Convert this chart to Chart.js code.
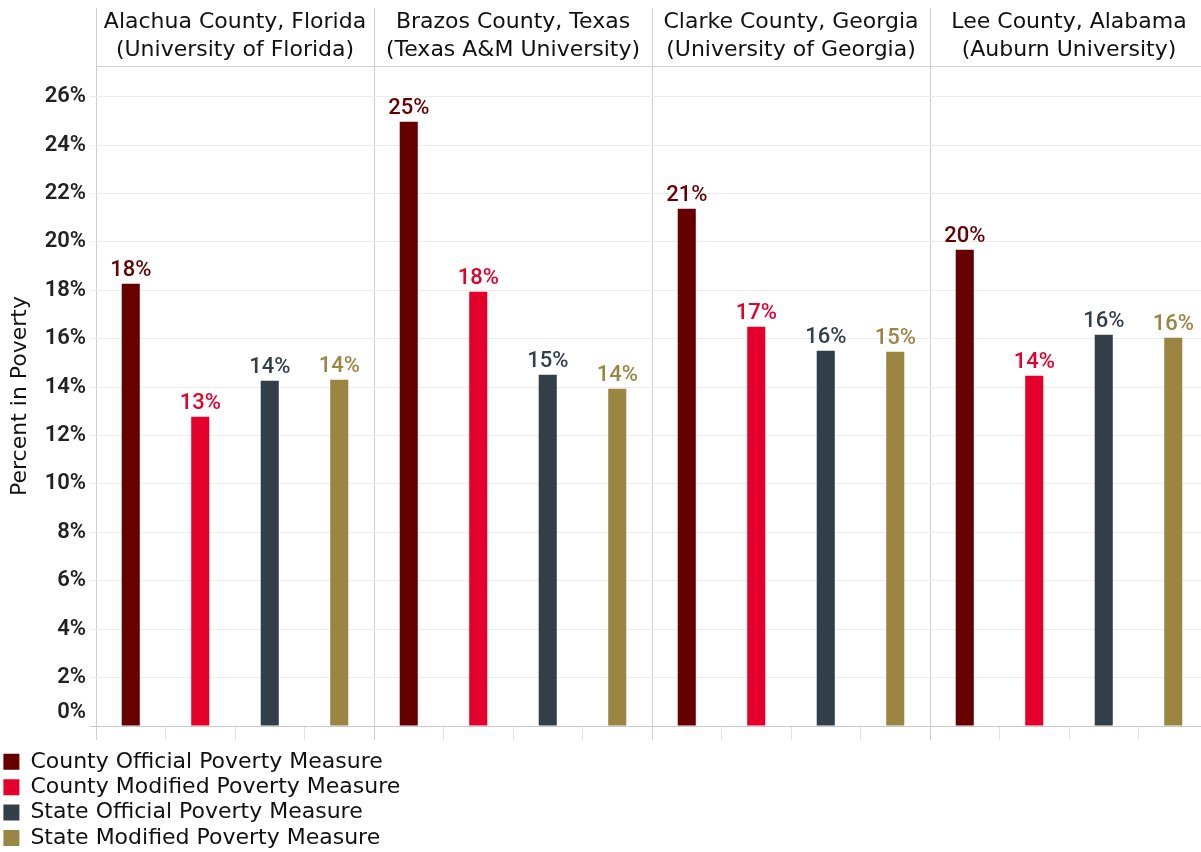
<!DOCTYPE html>
<html lang="en">
<head>
<meta charset="UTF-8">
<title>Percent in Poverty</title>
<style>
  html, body { margin: 0; padding: 0; overflow: hidden; background: #fff; }
  canvas { display: block; }
</style>
</head>
<body>
<canvas id="povertyChart" width="1208" height="859"></canvas>
<script src="https://cdn.jsdelivr.net/npm/chart.js@4.4.1/dist/chart.umd.min.js"></script>
<script>
  const COUNTIES = [
    ['Alachua County, Florida', '(University of Florida)'],
    ['Brazos County, Texas', '(Texas A&M University)'],
    ['Clarke County, Georgia', '(University of Georgia)'],
    ['Lee County, Alabama', '(Auburn University)']
  ];
  const SERIES_NAMES = [
    'County Official Poverty Measure',
    'County Modified Poverty Measure',
    'State Official Poverty Measure',
    'State Modified Poverty Measure'
  ];
  const COUNTY_OFFICIAL = [18.27, 24.97, 21.37, 19.68];
  const COUNTY_MODIFIED = [12.78, 17.94, 16.5, 14.47];
  const STATE_OFFICIAL = [14.26, 14.51, 15.5, 16.17];
  const STATE_MODIFIED = [14.31, 13.93, 15.46, 16.04];
  const Y_MAX = 27.27;
  const Y_STEP = 2;

  const COLORS = ['#660000', '#E4002B', '#333F48', '#9A8542'];
  const TEXT_FONT = '"DejaVu Sans", sans-serif';
  const NUM_FONT = 'Roboto';

  // value above each bar, in the colour of its series
  const valueLabels = {
    id: 'valueLabels',
    afterDatasetsDraw(chart) {
      const ctx = chart.ctx;
      ctx.save();
      ctx.font = '500 22px ' + NUM_FONT;
      ctx.textAlign = 'center';
      ctx.textBaseline = 'alphabetic';
      chart.data.datasets.forEach((ds, i) => {
        chart.getDatasetMeta(i).data.forEach((bar, j) => {
          ctx.fillStyle = ds.backgroundColor;
          ctx.fillText(Math.round(ds.data[j]) + '%', bar.x, bar.y - 8);
        });
      });
      ctx.restore();
    }
  };

  const seriesValues = [COUNTY_OFFICIAL, COUNTY_MODIFIED, STATE_OFFICIAL, STATE_MODIFIED];
  const datasets = SERIES_NAMES.map((name, i) => ({
    label: name,
    data: seriesValues[i],
    backgroundColor: COLORS[i],
    borderWidth: 0,
    barPercentage: 0.26,
    categoryPercentage: 1.0
  }));

  const slotCount = COUNTIES.length * SERIES_NAMES.length;

  new Chart(document.getElementById('povertyChart'), {
    type: 'bar',
    data: { labels: COUNTIES, datasets },
    plugins: [valueLabels],
    options: {
      responsive: false,
      animation: false,
      layout: { padding: 0 },
      plugins: {
        tooltip: { enabled: false },
        legend: {
          position: 'bottom',
          align: 'start',
          labels: {
            boxWidth: 16,
            boxHeight: 16,
            padding: 3.4,
            color: '#111',
            font: { family: TEXT_FONT, size: 22 },
            // one entry per row: pad the text so two never share a line
            generateLabels(chart) {
              return Chart.defaults.plugins.legend.labels.generateLabels(chart)
                .map(item => Object.assign(item, { text: item.text + ' '.repeat(60) }));
            }
          }
        }
      },
      scales: {
        x: {
          type: 'category',
          display: false,
          offset: true,
          grid: { offset: true }
        },
        xTop: {
          type: 'category',
          position: 'top',
          labels: COUNTIES,
          offset: true,
          afterFit(scale) { scale.height = 66; },
          ticks: {
            autoSkip: false,
            maxRotation: 0,
            padding: -56,
            color: '#111',
            font: { family: TEXT_FONT, size: 22, lineHeight: 28 / 22 }
          },
          grid: { offset: true, drawOnChartArea: false, tickLength: 58, color: '#cfcfcf' },
          border: { display: true, color: '#cfcfcf' }
        },
        xSlots: {
          type: 'linear',
          position: 'bottom',
          min: 0,
          max: slotCount,
          offset: false,
          ticks: { display: false, stepSize: 1 },
          grid: {
            offset: false,
            tickLength: 14,
            color: c => c.tick && c.tick.value % SERIES_NAMES.length === 0 ? '#cfcfcf' : 'rgba(0,0,0,0)',
            tickColor: c => c.tick && c.tick.value % SERIES_NAMES.length === 0 ? '#cfcfcf' : '#e2e2e2'
          },
          border: { display: false },
          title: { display: true, text: ' ', font: { size: 7.4, lineHeight: 1 }, padding: 0 }
        },
        y: {
          min: 0,
          max: Y_MAX,
          afterFit(scale) { scale.width = 96; },
          ticks: {
            stepSize: Y_STEP,
            includeBounds: false,
            autoSkip: false,
            padding: 4,
            color: '#222',
            font: { family: NUM_FONT, size: 22, weight: '600' },
            callback: v => v === 0 ? ['0%', ''] : v + '%'
          },
          grid: {
            tickLength: 6,
            color: c => c.tick && c.tick.value === 0 ? '#c8c8c8' : '#ececec',
            tickColor: c => c.tick && c.tick.value === 0 ? '#c8c8c8' : '#ececec'
          },
          border: { display: false },
          title: {
            display: true,
            text: 'Percent in Poverty',
            color: '#111',
            font: { family: TEXT_FONT, size: 22 },
            padding: { top: 7, bottom: 0 }
          }
        }
      }
    }
  });
</script>
</body>
</html>
